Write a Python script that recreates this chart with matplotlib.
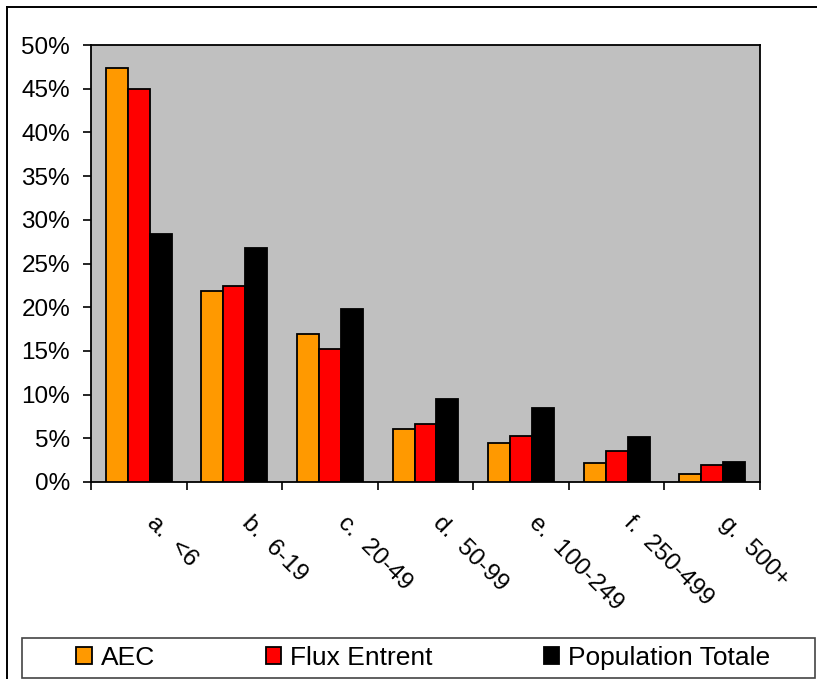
import numpy as np
import matplotlib
matplotlib.use('Agg')
import matplotlib.pyplot as plt
import matplotlib.transforms as mtransforms
from matplotlib.lines import Line2D
from matplotlib.patches import Rectangle
from matplotlib.ticker import FuncFormatter

plt.rcParams['font.family'] = ['Liberation Sans', 'DejaVu Sans']

# size classes (employees) and share of each population
categories = ['a.  <6', 'b.  6-19', 'c.  20-49', 'd.  50-99',
              'e.  100-249', 'f.  250-499', 'g.  500+']
aec        = [47.4, 21.9, 16.9, 6.1, 4.5, 2.2, 0.95]
flux       = [45.0, 22.4, 15.2, 6.6, 5.3, 3.6, 1.95]
population = [28.4, 26.8, 19.8, 9.5, 8.5, 5.1, 2.25]

series = [('AEC', aec, '#FF9900'),
          ('Flux Entrent', flux, '#FF0000'),
          ('Population Totale', population, '#000000')]

W, H, DPI = 817, 679, 100
FS = 17.5

fig = plt.figure(figsize=(W / DPI, H / DPI), dpi=DPI)
fig.patch.set_facecolor('white')

# plot area in pixels: x 91..760, y 45..482 from top
ax = fig.add_axes([91 / W, (H - 482) / H, (760 - 91) / W, (482 - 45) / H])
ax.set_facecolor('#C0C0C0')

x = np.arange(len(categories))
bw = 0.23
for i, (name, vals, col) in enumerate(series):
    ax.bar(x + (i - 1) * bw, vals, width=bw, color=col, edgecolor='black',
           linewidth=1.3, label=name, zorder=3)

ax.set_xlim(-0.5, len(categories) - 0.5)
ax.set_ylim(0, 50)
ax.set_yticks(np.arange(0, 51, 5))
ax.yaxis.set_major_formatter(FuncFormatter(lambda v, p: f'{v:.0f}%'))
ax.set_xticks(np.arange(len(categories) + 1) - 0.5)
ax.set_xticklabels([])
ax.tick_params(axis='both', direction='out', length=6, width=1.2,
               color='black', labelsize=FS)
ax.tick_params(axis='y', pad=9)
for sp in ax.spines.values():
    sp.set_color('black')
    sp.set_linewidth(1.3)

# rotated category labels under each group
off = mtransforms.ScaledTranslation(11 / DPI, -38 / DPI, fig.dpi_scale_trans)
trans = ax.get_xaxis_transform() + off
for xi, lab in zip(x, categories):
    ax.text(xi, 0, lab, transform=trans, rotation=-45, rotation_mode='anchor',
            ha='left', va='center', fontsize=FS)

# outer chart border: only the top and left edges fall inside the image
fig.add_artist(Line2D([7 / W, 1.0], [(H - 7) / H] * 2,
                      transform=fig.transFigure, color='black', lw=1.4))
fig.add_artist(Line2D([7 / W] * 2, [0.0, (H - 7) / H],
                      transform=fig.transFigure, color='black', lw=1.4))

# legend frame and entries
fig.patches.append(Rectangle((22 / W, (H - 678) / H), (815 - 22) / W, 40 / H,
                             transform=fig.transFigure, fill=False,
                             edgecolor='#444444', linewidth=1.2))
handles, labels = ax.get_legend_handles_labels()
fig.legend(handles, labels, loc='center left',
           bbox_to_anchor=(76 / W, (H - 658) / H), ncol=3, frameon=False,
           fontsize=19, handlelength=0.6, handleheight=0.6,
           handletextpad=0.33, columnspacing=4.2, borderpad=0,
           borderaxespad=0)

fig.savefig('out.png', dpi=DPI, facecolor='white')
